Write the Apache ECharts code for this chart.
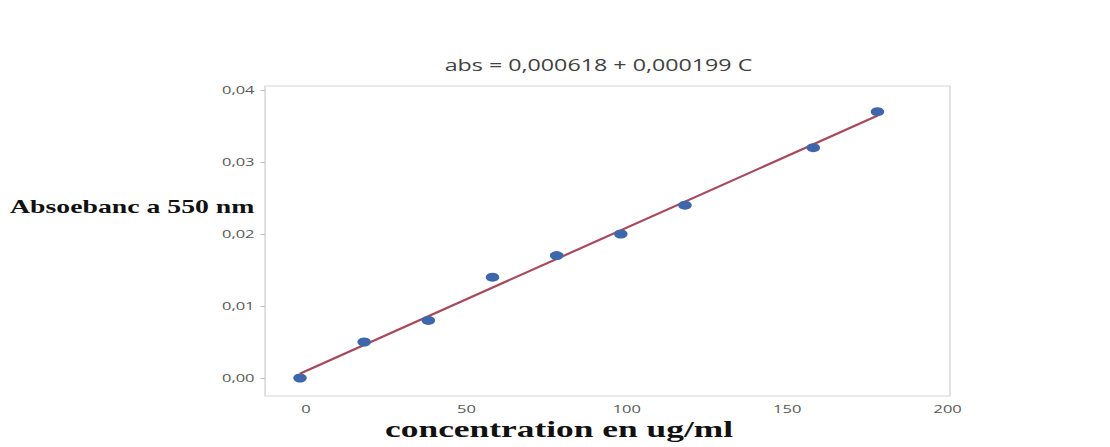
<!DOCTYPE html>
<html>
<head>
<meta charset="utf-8">
<script src="https://cdn.jsdelivr.net/npm/echarts@6/dist/echarts.min.js"></script>
<style>
  html, body { margin: 0; padding: 0; background: #ffffff; overflow: hidden; }
  #wrap { width: 1110px; height: 447px; overflow: hidden; }
  /* the figure is laid out narrow and then widened horizontally */
  #chart { width: 740px; height: 447px; transform: scaleX(1.5); transform-origin: 0 0; }
</style>
</head>
<body>
<div id="wrap"><div id="chart"></div></div>
<script>
// Calibration standards: concentration (ug/ml) and absorbance at 550 nm
const concentration = [0, 20, 40, 60, 80, 100, 120, 160, 180];
const absorbance = [0.000, 0.005, 0.008, 0.014, 0.017, 0.020, 0.024, 0.032, 0.037];

// Least-squares fit stated in the title: abs = a + b C
const fitIntercept = 0.000618;
const fitSlope = 0.000199;
const fitRange = [0, 180];

const xTicks = [0, 50, 100, 150, 200];
const yTicks = [0, 0.01, 0.02, 0.03, 0.04];

const titleText = 'abs = 0,000618 + 0,000199 C';
const yTitle = 'Absoebanc a 550 nm';
const xTitle = 'concentration en ug/ml';

const points = concentration.map((c, i) => [c, absorbance[i]]);
const fitLine = fitRange.map(c => [c, fitIntercept + fitSlope * c]);

const chart = echarts.init(document.getElementById('chart'), null, { renderer: 'svg' });

chart.setOption({
  animation: false,
  backgroundColor: '#ffffff',
  title: {
    text: titleText,
    left: 394,
    top: 52,
    textAlign: 'center',
    textStyle: { fontFamily: 'Open Sans', fontSize: 15.5, fontWeight: 'normal', color: '#404040' }
  },
  grid: {
    left: 176.7, top: 86, width: 456.6, height: 310,
    show: true, borderColor: '#d6d6d6', borderWidth: 1, backgroundColor: 'transparent'
  },
  xAxis: {
    type: 'value',
    min: -10.9, max: 202.6,
    axisLine: { show: false, onZero: false },
    axisTick: { show: false },
    splitLine: { show: false },
    axisLabel: {
      customValues: xTicks,
      margin: 7,
      padding: [0, 0, 0, 8],
      fontFamily: 'Open Sans', fontSize: 11, color: '#595959',
      formatter: v => String(v)
    }
  },
  yAxis: {
    type: 'value',
    min: -0.0025, max: 0.04056,
    axisLine: { show: false, onZero: false },
    axisTick: { show: true, customValues: yTicks, length: 3, lineStyle: { color: '#bfbfbf' } },
    splitLine: { show: false },
    axisLabel: {
      customValues: yTicks,
      margin: 7,
      fontFamily: 'Open Sans', fontSize: 11, color: '#595959',
      formatter: v => v.toFixed(2).replace('.', ',')
    }
  },
  graphic: [
    {
      type: 'text', left: 6.7, top: 197,
      style: { text: yTitle, font: 'bold 18.5px "Liberation Serif"', fill: '#111111' }
    },
    {
      type: 'text', left: 256.7, top: 417,
      style: { text: xTitle, font: 'bold 23.6px "Liberation Serif"', fill: '#111111' }
    }
  ],
  series: [
    {
      type: 'line',
      data: fitLine,
      showSymbol: false,
      lineStyle: { color: '#a64b5d', width: 2 },
      z: 2
    },
    {
      type: 'scatter',
      data: points,
      symbol: 'circle',
      symbolSize: 9,
      itemStyle: { color: '#3e67ab', opacity: 1 },
      z: 3
    }
  ]
});
</script>
</body>
</html>
